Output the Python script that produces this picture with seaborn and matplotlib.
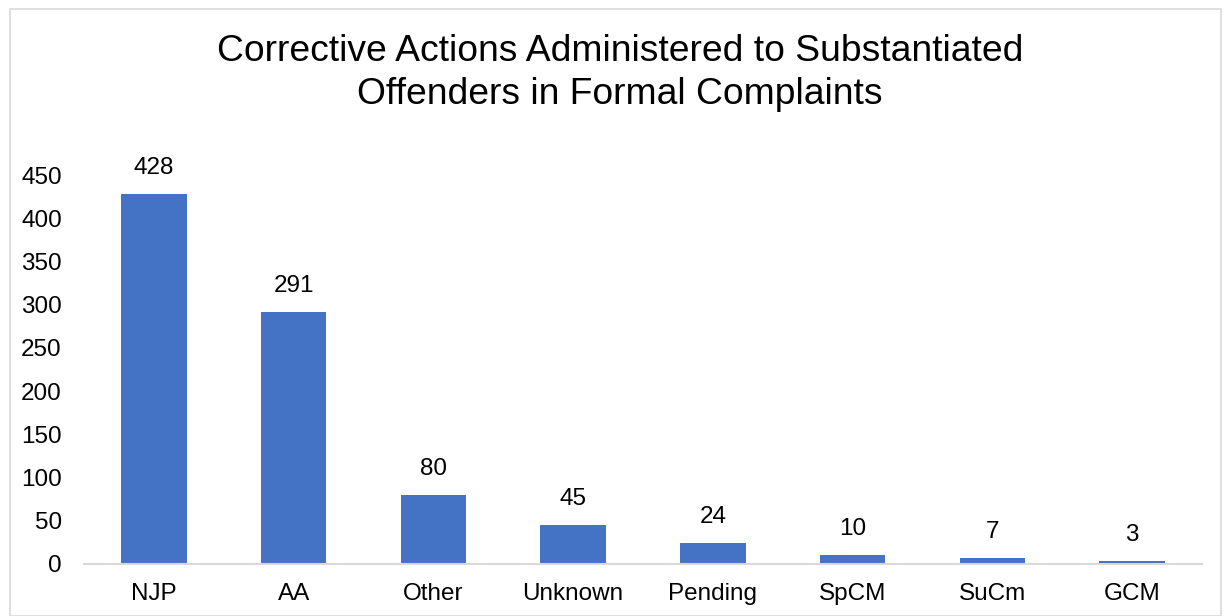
import matplotlib
matplotlib.use("Agg")
import matplotlib.pyplot as plt
import seaborn as sns
import pandas as pd
from matplotlib.patches import Rectangle

categories = ["NJP", "AA", "Other", "Unknown", "Pending", "SpCM", "SuCm", "GCM"]
values = [428, 291, 80, 45, 24, 10, 7, 3]
yticks = [0, 50, 100, 150, 200, 250, 300, 350, 400, 450]
title = "Corrective Actions Administered to Substantiated\nOffenders in Formal Complaints"

sns.set_theme(style="white")
plt.rcParams["font.family"] = ["Liberation Sans", "DejaVu Sans"]

W, H = 1224, 616
fig = plt.figure(figsize=(W / 100, H / 100), dpi=100)
ax = fig.add_axes([84 / W, 1 - 564 / H, (1202 - 84) / W, (564 - 175) / H])

df = pd.DataFrame({"cat": categories, "val": values})
sns.barplot(data=df, x="cat", y="val", color="#4472C4", saturation=1, width=0.47,
            linewidth=0, ax=ax)

ax.set_ylim(0, 450)
ax.set_xlim(-0.5, len(categories) - 0.5)
ax.set_yticks(yticks)
ax.set_yticklabels([str(t) for t in yticks])
ax.tick_params(axis="y", labelsize=17.5, length=0, pad=16, colors="black")
ax.tick_params(axis="x", labelsize=17.5, length=0, pad=14, colors="black")
ax.set_xlabel("")
ax.set_ylabel("")
for s in ["top", "right", "left"]:
    ax.spines[s].set_visible(False)
ax.spines["bottom"].set_color("#D9D9D9")
ax.spines["bottom"].set_linewidth(1.5)

for c in ax.containers:
    ax.bar_label(c, labels=[str(v) for v in values], padding=11, fontsize=17.5, color="black")

fig.text(620 / W, 1 - 73 / H, title, ha="center", va="center", fontsize=26.8, color="black",
         linespacing=1.33)

fig.patches.append(Rectangle((10 / W, 0), (1221 - 10) / W, 1 - 9 / H, transform=fig.transFigure,
                             fill=False, edgecolor="#D9D9D9", linewidth=1.2))

fig.savefig("out.png", dpi=100)
